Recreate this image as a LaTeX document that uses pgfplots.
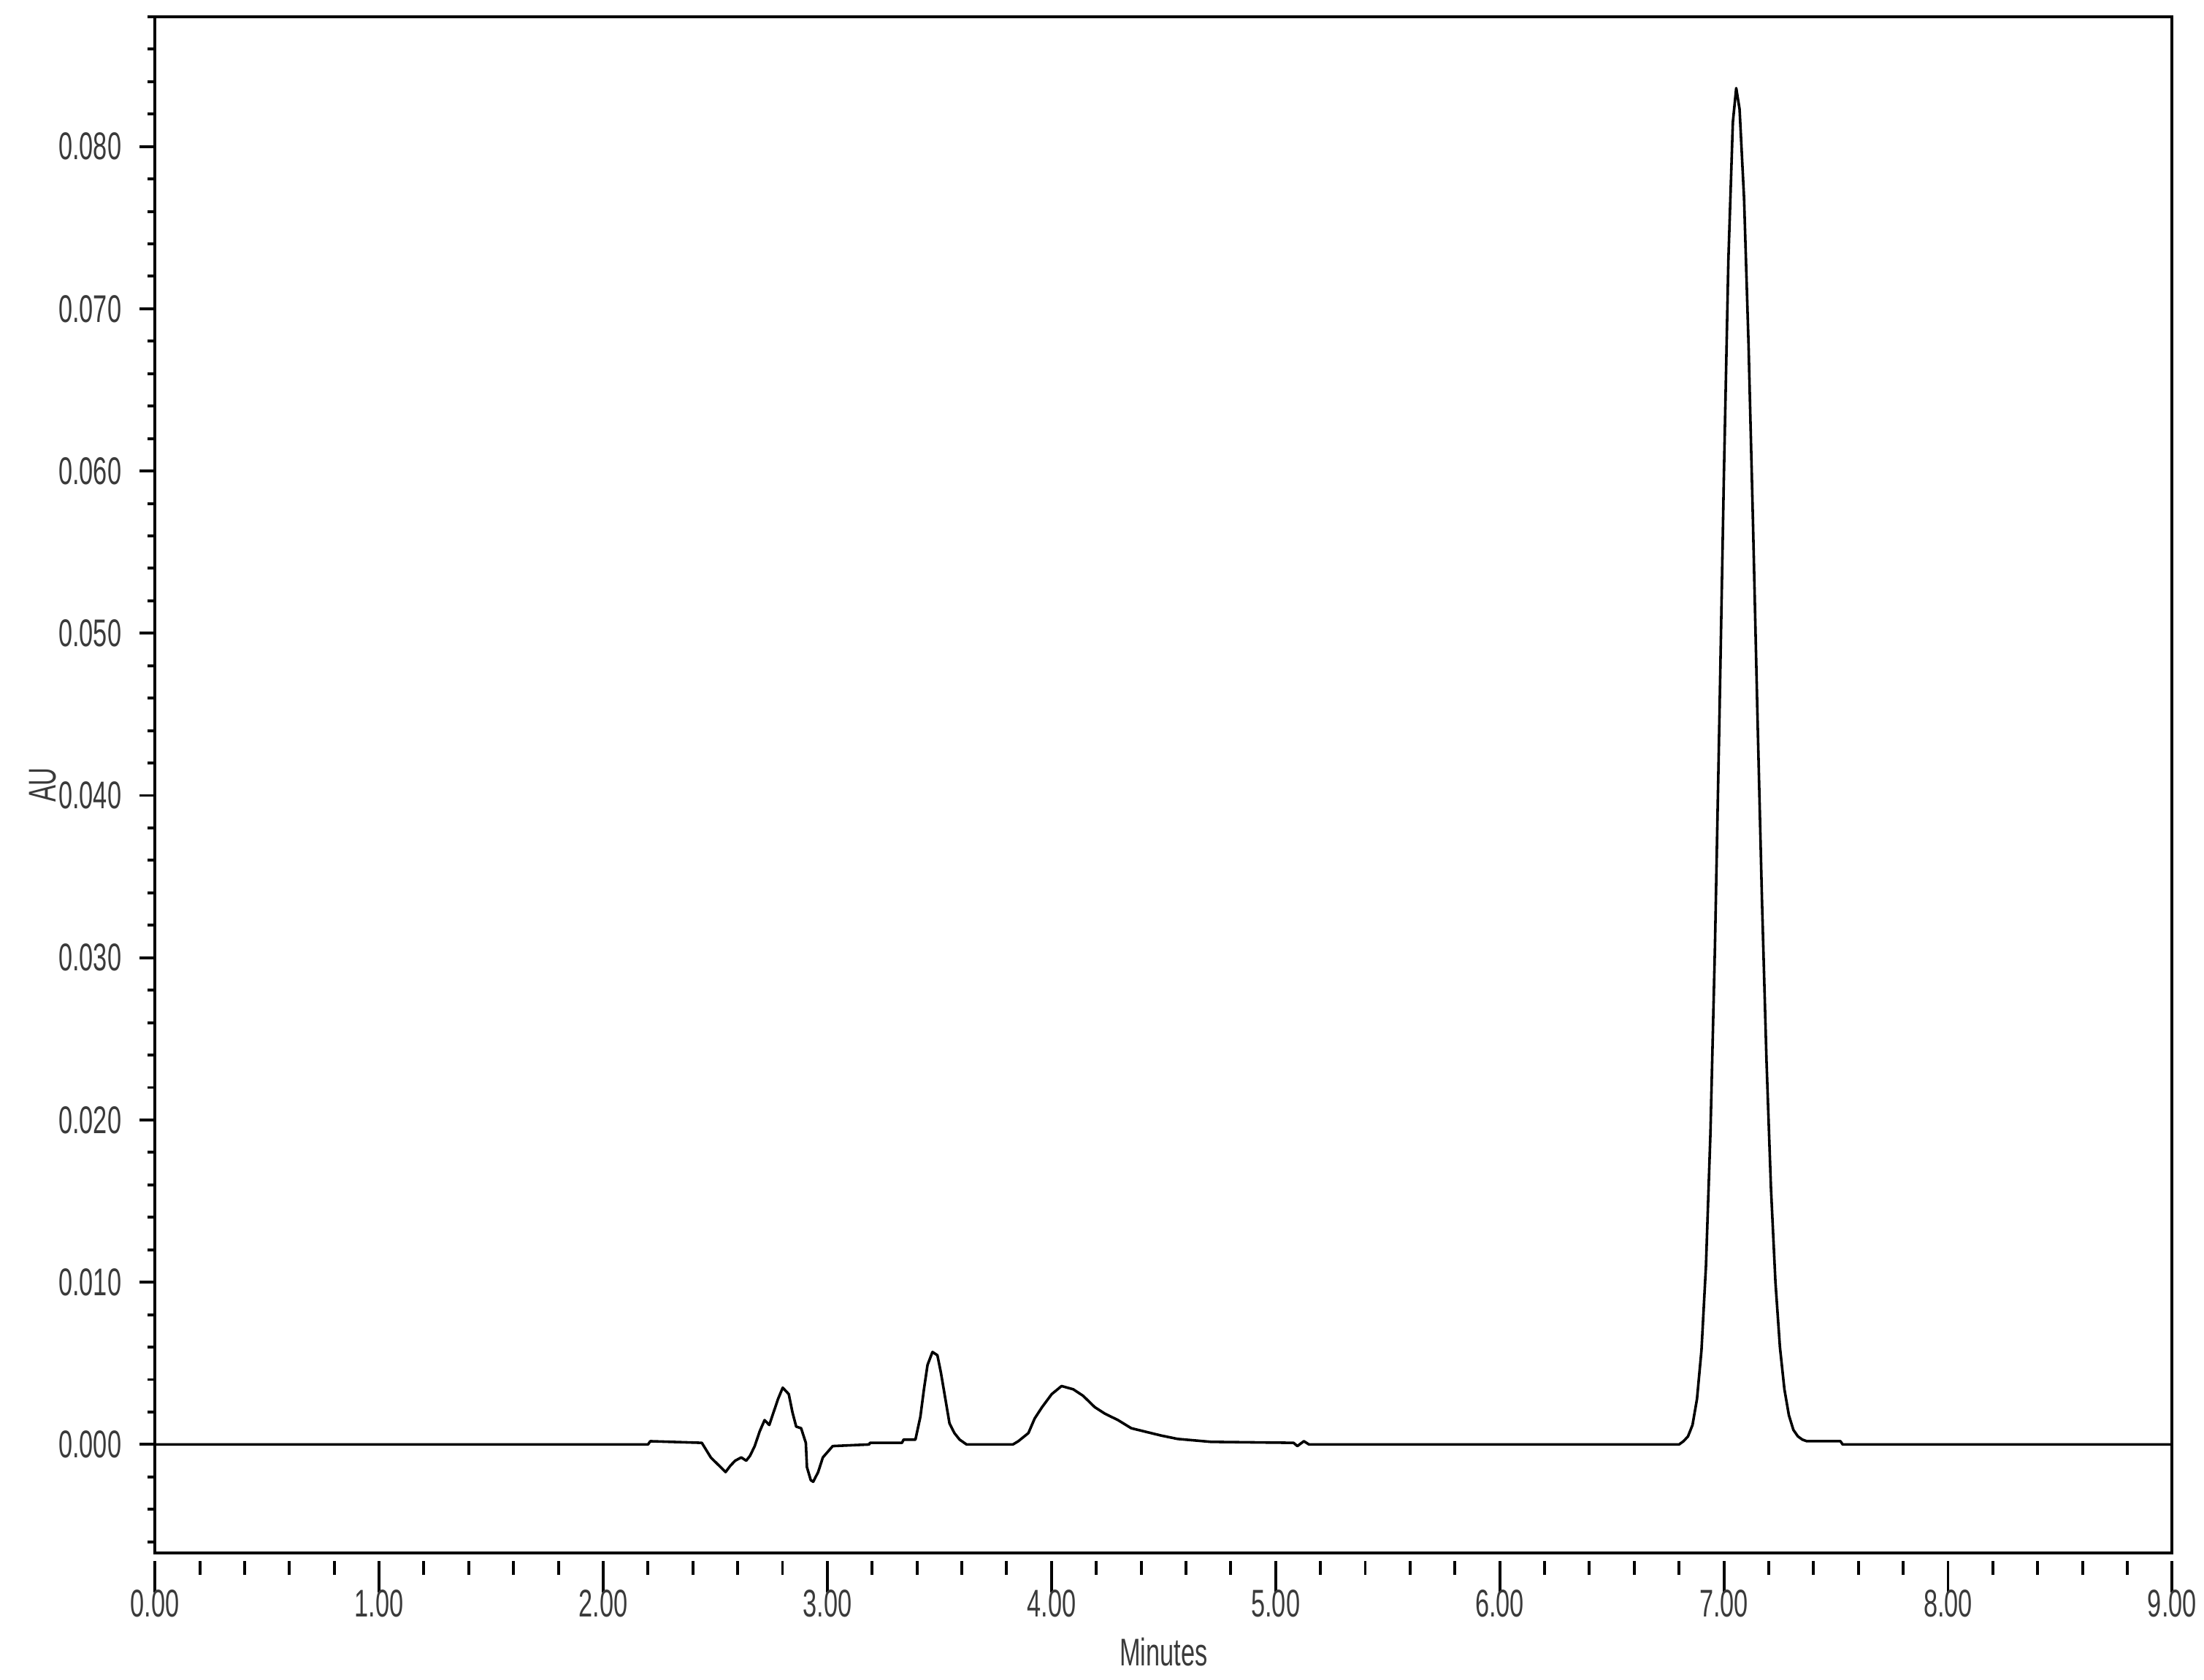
\documentclass[border=0pt]{standalone}
\usepackage{fontspec}
\setmainfont{Liberation Sans}[FakeStretch=0.65]
\usepackage{pgfplots}
\pgfplotsset{compat=1.18}
\definecolor{labelgray}{HTML}{3A3A3A}
\newcommand{\figfont}{\fontsize{7.4}{9}\selectfont}
\pgfplotsset{chromaxis/.style={scale only axis, width=386.7pt, height=294.6pt, at={(0,0)}, anchor=south west,
  xmin=0, xmax=9, ymin=-0.0067, ymax=0.088, tick align=outside, scaled ticks=false,
  axis line style={line width=0.55pt}, tick style={black, line width=0.55pt},
  ticklabel style={font=\figfont, text=labelgray}, label style={font=\figfont, text=labelgray},
  /pgf/number format/assume math mode=true}}

\begin{document}
\begin{tikzpicture}
% box, time axis and the trace
\begin{axis}[chromaxis, xtick={0,1,2,3,4,5,6,7,8,9}, minor x tick num=4, ytick=\empty, xtick pos=bottom,
  major tick length=6pt, minor tick length=2.7pt, xtick style={yshift=-1.5pt},
  xticklabel style={yshift=2.5pt, /pgf/number format/fixed, /pgf/number format/fixed zerofill, /pgf/number format/precision=2},
  xlabel={Minutes}, xlabel style={at={(axis description cs:0.5,0)}, anchor=center, yshift=-18.9pt}]
\addplot[black, line width=0.5pt, line join=round] coordinates {
(0,0) (2.20,0) (2.21,0.0002) (2.44,0.0001) (2.48,-0.0008) (2.546,-0.0017) (2.568,-0.0013) (2.589,-0.0010)
(2.616,-0.0008) (2.638,-0.0010) (2.655,-0.0007) (2.676,-0.0001) (2.698,0.0008) (2.720,0.0015) (2.741,0.0012)
(2.758,0.0019) (2.780,0.0028) (2.801,0.0035) (2.828,0.0031) (2.844,0.0020) (2.861,0.0011) (2.883,0.0010)
(2.904,0.0001) (2.909,-0.0014) (2.926,-0.0022) (2.937,-0.0023) (2.959,-0.0017) (2.980,-0.0008) (3.024,-0.0001)
(3.187,0.0000) (3.19,0.0001) (3.333,0.0001) (3.34,0.0003) (3.393,0.0003) (3.415,0.0017) (3.431,0.0034)
(3.447,0.0049) (3.469,0.0057) (3.491,0.0055) (3.507,0.0044) (3.523,0.0031) (3.545,0.0013) (3.567,0.0007)
(3.59,0.0003) (3.621,0.0000) (3.828,0.0000) (3.852,0.0002) (3.897,0.0007) (3.925,0.0016) (3.958,0.0023)
(4.001,0.0031) (4.045,0.0036) (4.097,0.0034) (4.141,0.0030) (4.193,0.0023) (4.238,0.0019) (4.297,0.0015)
(4.356,0.0010) (4.415,0.0008) (4.489,0.00055) (4.563,0.00034) (4.712,0.00016) (5.08,0.0001) (5.097,-0.0001)
(5.126,0.0002) (5.149,0.0000) (6.80,0.0000) (6.82,0.0002) (6.84,0.0005) (6.86,0.0012) (6.88,0.0028)
(6.90,0.0058) (6.92,0.0110) (6.94,0.0192) (6.96,0.0306) (6.98,0.0447) (7.00,0.0597) (7.02,0.0730)
(7.04,0.0815) (7.055,0.0836) (7.07,0.0823) (7.09,0.0768) (7.11,0.0678) (7.13,0.0567) (7.15,0.0448)
(7.17,0.0335) (7.19,0.0237) (7.21,0.0158) (7.23,0.0100) (7.25,0.0060) (7.27,0.0034) (7.29,0.0018)
(7.31,0.0009) (7.33,0.0005) (7.35,0.0003) (7.37,0.0002) (7.52,0.0002) (7.53,0.0000) (9,0.0000)
};
\end{axis}
% absorbance axis, with its own shorter ticks
\begin{axis}[chromaxis, hide x axis, axis y line*=left,
  ytick={-0.01,0,0.01,0.02,0.03,0.04,0.05,0.06,0.07,0.08,0.09}, minor y tick num=4,
  major tick length=2.9pt, minor tick length=1.4pt,
  yticklabel style={/pgf/number format/fixed, /pgf/number format/fixed zerofill, /pgf/number format/precision=3},
  ylabel={AU}, ylabel style={at={(axis description cs:0,0.5)}, anchor=center, rotate=0, yshift=21.5pt}]
\end{axis}
\pgfresetboundingbox
\path[use as bounding box] (-29.7pt,-24.2pt) rectangle (392.8pt,297.8pt);
\end{tikzpicture}
\end{document}
